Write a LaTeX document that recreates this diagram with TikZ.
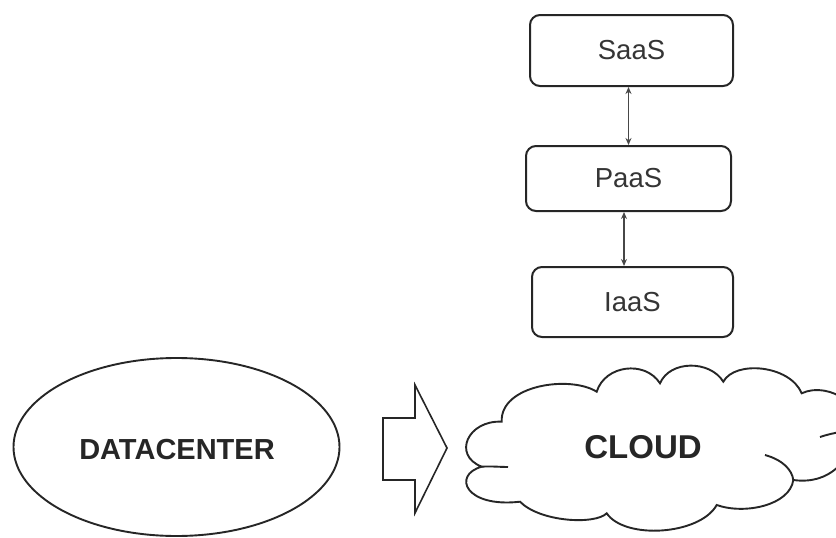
\documentclass[tikz,border=0pt]{standalone}
\usepackage{fontspec}
\setmainfont{Liberation Sans}
\usetikzlibrary{arrows.meta}
\definecolor{ink}{HTML}{262626}
\definecolor{txt}{HTML}{353535}
\tikzset{
  layer/.style={draw=ink, line width=2pt, rounded corners=10pt, fill=white,
    font=\fontsize{27.5}{30}\selectfont, text=txt, inner sep=0pt},
  link/.style={draw=ink!85, line width=1.2pt, {Stealth[length=7pt,width=6pt]}-{Stealth[length=7pt,width=6pt]}},
  outline/.style={draw=ink, line width=1.9pt, fill=white},
  big/.style={font=\bfseries\fontsize{29}{32}\selectfont, text=ink}
}
\begin{document}
\begin{tikzpicture}[x=1pt,y=-1pt]
\useasboundingbox (0,0) rectangle (836,538);
\clip (0,0) rectangle (836,538);
% service layers
\node[layer, minimum width=203pt, minimum height=71pt] (saas) at (631.5,50.5) {SaaS};
\node[layer, minimum width=205pt, minimum height=65pt] (paas) at (628.5,178.5) {PaaS};
\node[layer, minimum width=201pt, minimum height=70pt] (iaas) at (632.5,302) {IaaS};
\draw[link] (paas.north |- saas.south) -- (paas.north);
\draw[link] ([xshift=-4.5pt]paas.south) -- ([xshift=-4.5pt]paas.south |- iaas.north);
% datacenter
\draw[outline] (176.5,447) ellipse [x radius=163, y radius=89];
\node[big] (dc) at (177,450) {DATACENTER};
% block arrow
\draw[outline, line width=1.6pt] (383,418) -- (415,418) -- (415,385) -- (447,448) -- (415,513) -- (415,480) -- (383,480) -- cycle;
% cloud
\draw[outline] (481.7,466.7)
 .. controls (452,475) and (465,508) .. (520,501.7)
 .. controls (540,522) and (595,525) .. (606.7,513.3)
 .. controls (625,540) and (700,535) .. (716.7,505)
 .. controls (745,515) and (790,505) .. (793.3,480)
 .. controls (830,485) and (850,460) .. (858,432)
 .. controls (870,410) and (830,380) .. (801.7,393.3)
 .. controls (790,365) and (735,360) .. (723.3,381.7)
 .. controls (710,360) and (670,360) .. (660,383.3)
 .. controls (645,360) and (605,365) .. (596.7,391.7)
 .. controls (570,375) and (500,385) .. (501.7,421.7)
 .. controls (468,420) and (452,455) .. (481.7,466.7) -- cycle;
\draw[draw=ink, line width=1.9pt] (481.7,466.7) .. controls (490,466) and (500,467) .. (508,467);
\draw[draw=ink, line width=1.9pt] (765,455) .. controls (783,460) and (792,470) .. (793.3,480);
\draw[draw=ink, line width=1.9pt] (820,437) .. controls (835,432) and (850,430) .. (858,432);
\node[big, font=\bfseries\fontsize{33}{36}\selectfont] (cloud) at (643,447) {CLOUD};
\end{tikzpicture}
\end{document}
